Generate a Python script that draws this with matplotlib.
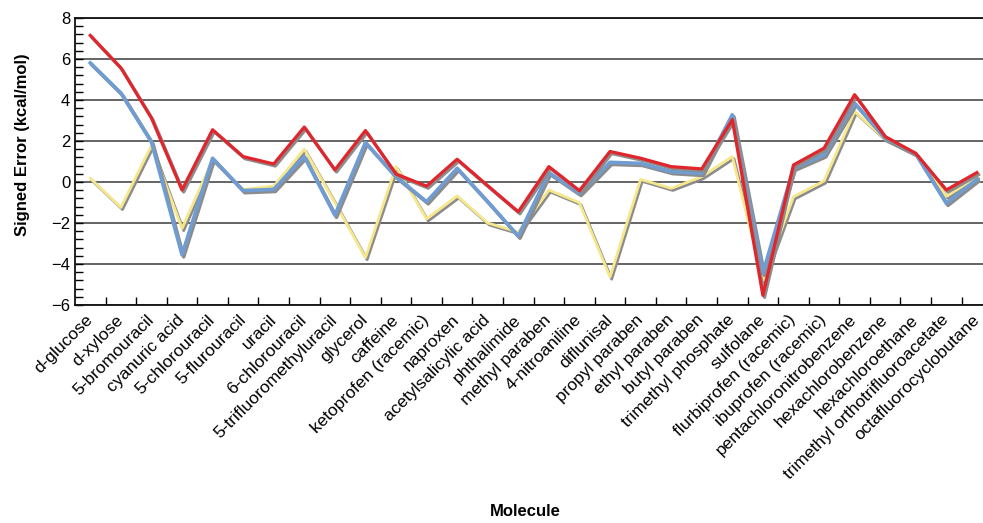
import matplotlib
matplotlib.use("Agg")
import matplotlib.pyplot as plt
import matplotlib.patheffects as pe
from matplotlib.ticker import MultipleLocator, FixedLocator

plt.rcParams["font.family"] = ["Liberation Sans", "DejaVu Sans"]

molecules = [
    "d-glucose", "d-xylose", "5-bromouracil", "cyanuric acid", "5-chlorouracil",
    "5-flurouracil", "uracil", "6-chlorouracil", "5-trifluoromethyluracil",
    "glycerol", "caffeine", "ketoprofen (racemic)", "naproxen",
    "acetylsalicylic acid", "phthalimide", "methyl paraben", "4-nitroaniline",
    "diflunisal", "propyl paraben", "ethyl paraben", "butyl paraben",
    "trimethyl phosphate", "sulfolane", "flurbiprofen (racemic)",
    "ibuprofen (racemic)", "pentachloronitrobenzene", "hexachlorobenzene",
    "hexachloroethane", "trimethyl orthotrifluoroacetate", "octafluorocyclobutane",
]

# signed errors, kcal/mol
err_red = [7.15, 5.57, 3.12, -0.39, 2.55, 1.24, 0.88, 2.68, 0.59, 2.51,
           0.39, -0.2, 1.11, -0.18, -1.45, 0.75, -0.42, 1.49, 1.16, 0.75,
           0.64, 3.04, -5.53, 0.83, 1.65, 4.26, 2.22, 1.4, -0.39, 0.46]
err_blue = [5.81, 4.34, 1.95, -3.55, 1.16, -0.42, -0.36, 1.24, -1.62, 1.93,
            0.26, -0.96, 0.67, -0.96, -2.64, 0.46, -0.56, 0.96, 0.91, 0.51,
            0.42, 3.28, -4.45, 0.67, 1.32, 3.85, 2.14, 1.37, -1.04, 0.13]
err_yellow = [0.18, -1.24, 1.78, -2.27, 1.08, -0.36, -0.2, 1.6, -1.0, -3.69,
              0.75, -1.8, -0.68, -2.0, -2.44, -0.39, -1.01, -4.64, 0.13, -0.31,
              0.26, 1.24, -4.8, -0.72, 0.05, 3.44, 2.09, 1.37, -0.7, 0.26]

W, H = 983, 523
fig = plt.figure(figsize=(W / 100, H / 100), dpi=100)
ax = fig.add_axes([75 / W, 1 - 305 / H, (W - 75) / W, (305 - 18) / H])

x = list(range(len(molecules)))
shadow = [pe.SimpleLineShadow(offset=(1.2, -1.5), shadow_color="#8c8c8c", alpha=1.0), pe.Normal()]

ax.plot(x, err_yellow, color="#f6e88a", lw=2.0, path_effects=shadow, zorder=3)
ax.plot(x, err_blue, color="#6f9dd3", lw=2.6, path_effects=shadow, zorder=4)
ax.plot(x, err_red, color="#e0262c", lw=2.3, path_effects=shadow, zorder=5)

ax.set_xlim(-0.5, 29.2)
ax.set_ylim(-6, 8)
ax.set_yticks(range(-6, 9, 2))
ax.yaxis.set_minor_locator(MultipleLocator(0.4))
ax.yaxis.grid(True, color="#4a4a4a", lw=1.2)
ax.set_axisbelow(True)

ax.set_xticks(x)
ax.set_xticklabels(molecules, rotation=45, ha="right", va="center",
                   rotation_mode="anchor", fontsize=12.5)
ax.xaxis.set_minor_locator(FixedLocator([i + 0.5 for i in range(len(molecules) - 1)]))
ax.tick_params(axis="x", which="major", length=0, pad=9)
ax.tick_params(axis="x", which="minor", direction="in", length=6, width=1)
ax.tick_params(axis="y", which="both", direction="in", length=6, width=1, labelsize=12)

ax.spines["right"].set_visible(False)
for s in ("left", "bottom", "top"):
    ax.spines[s].set_linewidth(1.3)
    ax.spines[s].set_color("#111111")

fig.text(23 / W, 1 - 145 / H, "Signed Error (kcal/mol)", rotation=90,
         ha="center", va="center", fontsize=12, fontweight="bold")
fig.text(525 / W, 1 - 512 / H, "Molecule", ha="center", va="center",
         fontsize=12, fontweight="bold")

fig.savefig("out.png", dpi=100)
